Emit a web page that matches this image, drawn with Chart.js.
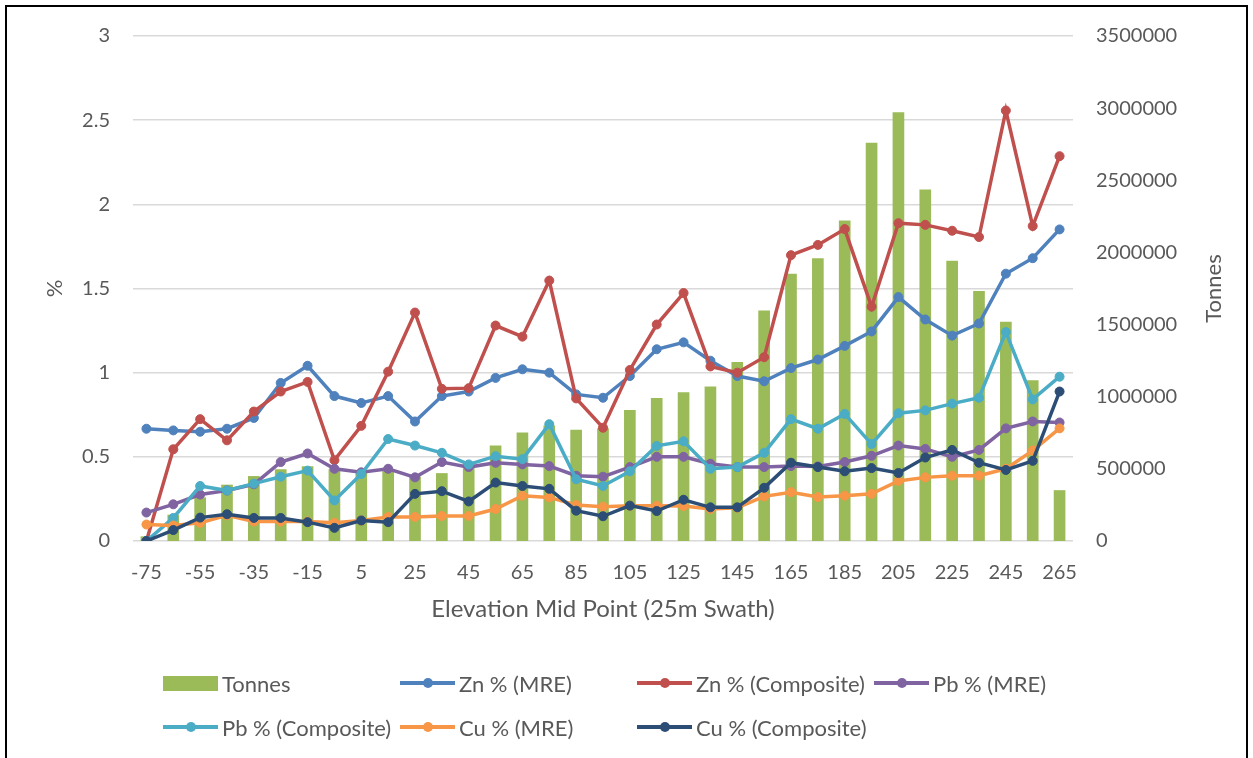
<!DOCTYPE html>
<html>
<head>
<meta charset="utf-8">
<title>Grade and tonnes by elevation</title>
<script src="https://cdn.jsdelivr.net/npm/chart.js@4.4.1/dist/chart.umd.min.js"></script>
<style>
  html, body { margin: 0; padding: 0; background: #fff; overflow: hidden; }
  #wrap { position: relative; width: 1253px; height: 758px; }
  #frame { position: absolute; left: 5px; top: 5px; width: 1243px; height: 800px; border: 2px solid #000; box-sizing: border-box; }
  #gradeChart { position: absolute; left: 0; top: 0; }
  #legend { position: absolute; left: 163px; top: 661px; display: grid; grid-template-columns: repeat(4, 237px); grid-auto-rows: 44px; font: 22px Lato, sans-serif; color: #595959; }
  .item { display: flex; align-items: center; white-space: nowrap; }
  .swatch { position: relative; width: 55px; height: 16px; margin-right: 4px; flex: none; }
  .swatch.bar { background: var(--c); height: 15px; }
  .swatch.line::before { content: ''; position: absolute; left: 0; right: 0; top: 6px; height: 4px; background: var(--c); }
  .swatch.line::after { content: ''; position: absolute; left: 50%; top: 8px; width: 10px; height: 10px; margin: -5px 0 0 -5px; border-radius: 50%; background: var(--c); }
</style>
</head>
<body>
<div id="wrap">
  <canvas id="gradeChart" width="1253" height="758"></canvas>
  <div id="frame"></div>
  <div id="legend"></div>
</div>
<script>
// Elevation mid points (25m swaths)
const elevations = ['-75', '-65', '-55', '-45', '-35', '-25', '-15', '-5', '5', '15', '25', '35', '45', '55', '65', '75', '85', '95',
  '105', '115', '125', '135', '145', '155', '165', '175', '185', '195', '205', '215', '225', '235', '245', '255', '265'];

const tonnes = [30000, 180000, 300000, 388000, 448000, 495000, 515000, 495000, 478000, 490000, 445000, 468000,
  540000, 660000, 750000, 798000, 769000, 780000, 905000, 988000, 1028000, 1069000, 1238000, 1595000,
  1850000, 1957000, 2219000, 2757000, 2969000, 2433000, 1940000, 1731000, 1517000, 1112000, 350000];

const znMre = [0.667, 0.657, 0.649, 0.667, 0.731, 0.939, 1.041, 0.861, 0.820, 0.861, 0.710, 0.861,
  0.888, 0.969, 1.020, 1.000, 0.871, 0.851, 0.980, 1.139, 1.180, 1.071, 0.980, 0.949,
  1.027, 1.078, 1.159, 1.245, 1.449, 1.316, 1.220, 1.292, 1.588, 1.680, 1.851];

const znComp = [0, 0.545, 0.724, 0.598, 0.769, 0.888, 0.945, 0.480, 0.684, 1.006, 1.357, 0.904,
  0.908, 1.280, 1.214, 1.547, 0.847, 0.673, 1.016, 1.286, 1.473, 1.037, 1.000, 1.092,
  1.698, 1.759, 1.853, 1.392, 1.888, 1.878, 1.843, 1.806, 2.557, 1.871, 2.286];

const pbMre = [0.169, 0.218, 0.276, 0.300, 0.337, 0.469, 0.520, 0.429, 0.408, 0.429, 0.378, 0.469,
  0.439, 0.465, 0.455, 0.445, 0.388, 0.382, 0.439, 0.500, 0.500, 0.459, 0.439, 0.439,
  0.445, 0.443, 0.469, 0.506, 0.567, 0.547, 0.500, 0.541, 0.669, 0.710, 0.704];

const pbComp = [0, 0.137, 0.327, 0.300, 0.341, 0.382, 0.418, 0.241, 0.398, 0.606, 0.567, 0.524,
  0.455, 0.504, 0.486, 0.694, 0.367, 0.327, 0.414, 0.565, 0.592, 0.429, 0.439, 0.524,
  0.724, 0.667, 0.755, 0.576, 0.759, 0.776, 0.816, 0.851, 1.241, 0.841, 0.976];

const cuMre = [0.098, 0.092, 0.108, 0.153, 0.116, 0.116, 0.116, 0.108, 0.122, 0.143, 0.143, 0.149,
  0.149, 0.190, 0.269, 0.259, 0.214, 0.204, 0.210, 0.210, 0.208, 0.190, 0.198, 0.265,
  0.290, 0.261, 0.269, 0.280, 0.357, 0.378, 0.388, 0.388, 0.429, 0.537, 0.669];

const cuComp = [0, 0.065, 0.139, 0.159, 0.137, 0.137, 0.112, 0.078, 0.122, 0.112, 0.280, 0.296,
  0.235, 0.347, 0.327, 0.310, 0.180, 0.147, 0.210, 0.178, 0.245, 0.200, 0.200, 0.316,
  0.465, 0.439, 0.414, 0.433, 0.404, 0.496, 0.541, 0.465, 0.422, 0.476, 0.888];

const gradeTicks = [0, 0.5, 1, 1.5, 2, 2.5, 3];
const tonnesTicks = [0, 500000, 1000000, 1500000, 2000000, 2500000, 3000000, 3500000];

const textColor = '#595959';
Chart.defaults.font.family = 'Lato, sans-serif';
Chart.defaults.color = textColor;

function gradeLine(label, data, color, order) {
  return {
    type: 'line', label: label, data: data, yAxisID: 'y', order: order,
    borderColor: color, backgroundColor: color, borderWidth: 3.5,
    pointRadius: 4.5, pointBorderWidth: 1, pointBorderColor: color, pointBackgroundColor: color,
    tension: 0
  };
}

// Right axis title reads bottom-to-top, so it is drawn here instead of by the scale
const tonnesTitle = {
  id: 'tonnesTitle',
  afterDraw(chart) {
    const { ctx, chartArea } = chart;
    ctx.save();
    ctx.translate(1214, (chartArea.top + chartArea.bottom) / 2);
    ctx.rotate(-Math.PI / 2);
    ctx.font = '22px Lato, sans-serif';
    ctx.fillStyle = textColor;
    ctx.textAlign = 'center';
    ctx.textBaseline = 'middle';
    ctx.fillText('Tonnes', 0, 0);
    ctx.restore();
  }
};

const ctx = document.getElementById('gradeChart').getContext('2d');
const chart = new Chart(ctx, {
  data: {
    labels: elevations,
    datasets: [
      { type: 'bar', label: 'Tonnes', data: tonnes, yAxisID: 'yT', order: 10,
        backgroundColor: '#9BBB59', barThickness: 11 },
      gradeLine('Zn % (MRE)', znMre, '#4F81BD', 6),
      gradeLine('Zn % (Composite)', znComp, '#C0504D', 5),
      gradeLine('Pb % (MRE)', pbMre, '#8064A2', 4),
      gradeLine('Pb % (Composite)', pbComp, '#4BACC6', 3),
      gradeLine('Cu % (MRE)', cuMre, '#F79646', 2),
      gradeLine('Cu % (Composite)', cuComp, '#2C4D75', 1)
    ]
  },
  options: {
    responsive: false,
    animation: false,
    layout: { padding: { top: 36, bottom: 127, left: 0, right: 0 } },
    plugins: { legend: { display: false }, tooltip: { enabled: false } },
    scales: {
      x: {
        type: 'category', offset: true,
        grid: { display: false, drawTicks: false }, border: { display: false },
        ticks: {
          autoSkip: false, maxRotation: 0, minRotation: 0, padding: 20,
          font: { size: 20 },
          callback: (value, index) => index % 2 === 0 ? elevations[index] : ''
        },
        title: { display: true, text: 'Elevation Mid Point (25m Swath)', font: { size: 24 }, padding: { top: 0, bottom: 7 } },
        afterFit: scale => { scale.height = 90; }
      },
      y: {
        position: 'left', min: 0, max: 3,
        afterBuildTicks: scale => { scale.ticks = gradeTicks.map(v => ({ value: v })); },
        grid: { color: '#D9D9D9', lineWidth: 1.5, drawTicks: false }, border: { display: false },
        ticks: { padding: 23, font: { size: 20 }, callback: v => String(v) },
        title: { display: true, text: '%', font: { size: 22 }, padding: { top: 42, bottom: 0 } },
        afterFit: scale => { scale.width = 133; }
      },
      yT: {
        position: 'right', min: 0, max: 3500000,
        afterBuildTicks: scale => { scale.ticks = tonnesTicks.map(v => ({ value: v })); },
        grid: { display: false, drawTicks: false }, border: { display: false },
        ticks: { padding: 23, font: { size: 20 }, callback: v => String(v) },
        afterFit: scale => { scale.width = 180; }
      }
    }
  },
  plugins: [tonnesTitle]
});

// Legend laid out as a grid under the plot
const legend = document.getElementById('legend');
chart.data.datasets.forEach(ds => {
  const item = document.createElement('div');
  item.className = 'item';
  const swatch = document.createElement('span');
  swatch.className = 'swatch ' + (ds.type === 'bar' ? 'bar' : 'line');
  swatch.style.setProperty('--c', ds.backgroundColor);
  const text = document.createElement('span');
  text.textContent = ds.label;
  item.appendChild(swatch);
  item.appendChild(text);
  legend.appendChild(item);
});
</script>
</body>
</html>
